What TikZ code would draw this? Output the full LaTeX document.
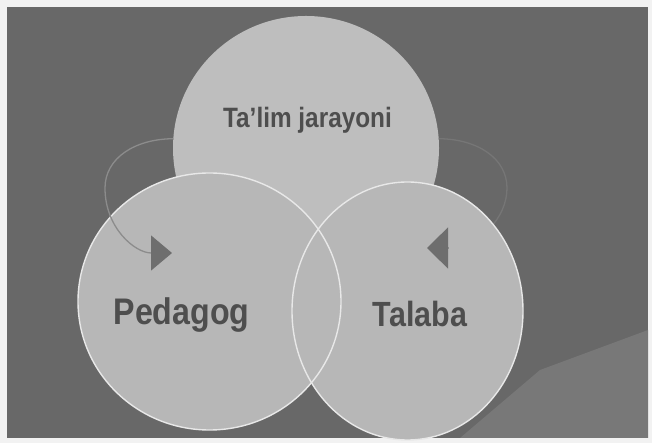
\documentclass[tikz,border=0pt]{standalone}
\usepackage{graphicx}
\usepackage{fontspec}
\setmainfont{Liberation Sans}
\usetikzlibrary{shapes.geometric,arrows.meta}
\definecolor{bgpage}{HTML}{F2F2F2}
\definecolor{bgdark}{HTML}{686868}
\definecolor{bglight}{HTML}{787878}
\definecolor{topfill}{HTML}{BEBEBE}
\definecolor{circfill}{HTML}{B7B7B7}
\definecolor{rimcol}{HTML}{E8E8E8}
\definecolor{txtcol}{HTML}{4E4E4E}
\definecolor{arccol}{HTML}{8C8C8C}
\definecolor{arcfaint}{HTML}{767676}
\definecolor{tipcol}{HTML}{6E6E6E}
\begin{document}
\begin{tikzpicture}[x=1pt,y=1pt,
  blob/.style={ellipse, inner sep=0pt, draw=none},
  rim/.style={draw=rimcol, line width=1.4pt},
  lbl/.style={text=txtcol, anchor=base, inner sep=0pt},
  arcline/.style={draw=arccol, line width=1.3pt},
  tiphead/.style={-{Triangle[length=21pt,width=#1,fill=tipcol,color=tipcol]}}]
\useasboundingbox (0,0) rectangle (652,443);
\fill[bgpage] (0,0) rectangle (652,443);
\fill[bgdark] (7,5) rectangle (648,436);
\fill[bglight] (648,113) -- (540,73) -- (460,5) -- (648,5) -- cycle;
% top circle
\node[blob, fill=topfill, minimum width=266pt, minimum height=264pt] (topc) at (306,295) {};
% right arc (behind the right circle)
\coordinate (rb) at (448,195);
\coordinate (rt) at (427,195);
\draw[arcline, draw=arcfaint] (topc.4) .. controls (477,304) and (507,285) .. (507,255) .. controls (507,225) and (480,197) .. (rb);
% lower circles
\node[blob, fill=circfill, minimum width=263pt, minimum height=257pt] (ped) at (209.5,141.5) {};
\node[blob, fill=circfill, minimum width=231pt, minimum height=258pt] (tal) at (407.5,132) {};
\draw[rim] (ped.center) ellipse [x radius=131.5pt, y radius=128.5pt];
\draw[rim] (tal.center) ellipse [x radius=115.5pt, y radius=129pt];
% left arc with arrowhead
\coordinate (lt) at (172,190);
\draw[arcline, tiphead=35pt] (topc.176) .. controls (135,304) and (105,285) .. (105,255) .. controls (105,215) and (135,190) .. (lt);
% right arrowhead
\draw[arcline, tiphead=41pt] (rb) -- (rt);
% labels
\node[lbl, font=\bfseries\fontsize{28}{28}\selectfont] (tj) at (307.5,315) {\scalebox{0.87}[1]{Ta’lim jarayoni}};
\node[lbl, font=\bfseries\fontsize{37}{37}\selectfont] (pd) at (181.5,118) {\scalebox{0.87}[1]{Pedagog}};
\node[lbl, font=\bfseries\fontsize{35}{35}\selectfont] (tb) at (420,116) {\scalebox{0.87}[1]{Talaba}};
\end{tikzpicture}
\end{document}
